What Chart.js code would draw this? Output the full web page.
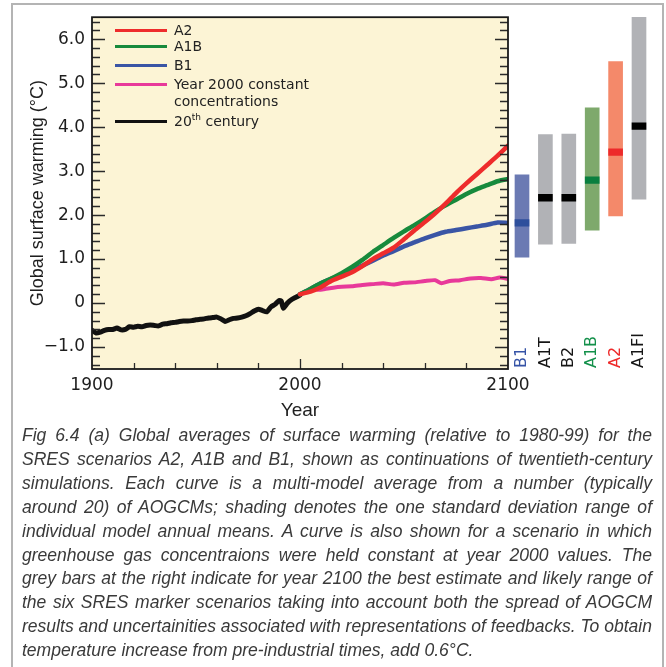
<!DOCTYPE html>
<html>
<head>
<meta charset="utf-8">
<script src="https://cdn.jsdelivr.net/npm/chart.js@4.4.1/dist/chart.umd.min.js"></script>
<style>
body { margin: 0; background: #fff; }
#fig { position: relative; width: 666px; height: 667px; overflow: hidden; background: #fff; }
#frame { position: absolute; left: 11px; top: 3px; width: 649px; height: 720px; border: 2px solid #b4b4b4; }
#lineChart { position: absolute; left: 0; top: 0; }
#barChart { position: absolute; left: 508px; top: 0; }
.lg { position: absolute; left: 174px; font-family: "DejaVu Sans"; font-size: 14px; line-height: 17px; color: #222; white-space: nowrap; }
.lg sup { font-size: 9px; line-height: 0; }
.lgl { position: absolute; left: 115px; width: 52px; height: 3px; }
#caption { position: absolute; left: 22px; top: 424px; font-family: "Liberation Sans"; font-style: italic; font-size: 18px; line-height: 23.9px; color: #3a3a3a; transform-origin: 0 0; }
#caption .ln { white-space: nowrap; text-align: justify; text-align-last: justify; }
#caption .ln.last { text-align-last: left; }
</style>
</head>
<body>
<div id="fig">
  <div id="frame"></div>
  <canvas id="lineChart" width="540" height="425"></canvas>
  <canvas id="barChart" width="158" height="425"></canvas>

  <div class="lgl" style="top:28.5px;background:#ee2c2c"></div>
  <div class="lg" style="top:21.5px">A2</div>
  <div class="lgl" style="top:44.5px;background:#178a3c"></div>
  <div class="lg" style="top:37.5px">A1B</div>
  <div class="lgl" style="top:63.5px;background:#3a55a5"></div>
  <div class="lg" style="top:56.5px">B1</div>
  <div class="lgl" style="top:82.5px;background:#e8399a"></div>
  <div class="lg" style="top:75.5px">Year 2000 constant<br>concentrations</div>
  <div class="lgl" style="top:119.5px;height:3.5px;background:#111"></div>
  <div class="lg" style="top:112.5px">20<sup>th</sup> century</div>

  <div id="caption"></div>
</div>

<script>
// 20th century (annual mean)
const histYears = [1900, 1902, 1904, 1906, 1908, 1910, 1912, 1914, 1916, 1918, 1920, 1922, 1924, 1926, 1928,
    1930, 1932, 1934, 1936, 1938, 1940, 1942, 1944, 1946, 1948, 1950, 1952, 1954, 1956, 1958, 1960,
    1962, 1964, 1966, 1968, 1970, 1972, 1974, 1976, 1978, 1980, 1982, 1984, 1986, 1988, 1990, 1991,
    1992, 1994, 1996, 1998, 2000];
const histTemps = [-0.62, -0.68, -0.66, -0.62, -0.60, -0.60, -0.57, -0.61, -0.60, -0.54, -0.55, -0.53, -0.54, -0.51, -0.50,
    -0.51, -0.52, -0.48, -0.47, -0.45, -0.44, -0.42, -0.41, -0.41, -0.40, -0.38, -0.37, -0.36, -0.34, -0.33, -0.32,
    -0.36, -0.42, -0.38, -0.35, -0.34, -0.32, -0.29, -0.24, -0.18, -0.14, -0.17, -0.20, -0.09, -0.03, 0.06, 0.04,
    -0.12, 0.00, 0.08, 0.13, 0.18];

// scenario projections 2000-2100
const projYears = [2000, 2005, 2010, 2015, 2020, 2025, 2030, 2035, 2040, 2045, 2050,
    2055, 2060, 2065, 2070, 2075, 2080, 2085, 2090, 2095, 2100];
const a2Temps  = [0.20, 0.26, 0.36, 0.50, 0.60, 0.70, 0.84, 1.00, 1.13, 1.26, 1.45,
    1.65, 1.84, 2.04, 2.26, 2.50, 2.72, 2.93, 3.14, 3.35, 3.58];
const a1bTemps = [0.20, 0.32, 0.45, 0.56, 0.68, 0.82, 0.98, 1.16, 1.32, 1.48, 1.63,
    1.77, 1.92, 2.08, 2.22, 2.35, 2.48, 2.59, 2.68, 2.77, 2.82];
const b1Temps  = [0.20, 0.32, 0.45, 0.55, 0.65, 0.75, 0.85, 0.96, 1.08, 1.18, 1.29,
    1.38, 1.47, 1.55, 1.62, 1.66, 1.70, 1.74, 1.78, 1.83, 1.82];

const commitYears = [2000, 2003, 2006, 2009, 2012, 2016, 2020, 2025, 2030, 2035, 2040, 2045,
    2050, 2055, 2060, 2065, 2068, 2072, 2077, 2082, 2087, 2092, 2096, 2100];
const commitTemps = [0.20, 0.26, 0.33, 0.30, 0.32, 0.35, 0.37, 0.38, 0.41, 0.43, 0.45, 0.42,
    0.46, 0.47, 0.50, 0.52, 0.45, 0.50, 0.52, 0.56, 0.57, 0.54, 0.58, 0.55];

// year-2100 likely ranges and best estimates
const scenLabels = ['B1', 'A1T', 'B2', 'A1B', 'A2', 'A1FI'];
const scenLow  = [1.03, 1.32, 1.34, 1.64, 1.96, 2.34];
const scenHigh = [2.89, 3.80, 3.81, 4.40, 5.45, 6.45];
const scenBest = [1.80, 2.37, 2.37, 2.77, 3.40, 3.99];

const yTickValues = [-1, 0, 1, 2, 3, 4, 5, 6];
const xTickLabels = [1900, 2000, 2100];

const captionLines = [
    'Fig 6.4 (a) Global averages of surface warming (relative to 1980-99) for the',
    'SRES scenarios A2, A1B and B1, shown as continuations of twentieth-century',
    'simulations. Each curve is a multi-model average from a number (typically',
    'around 20) of AOGCMs; shading denotes the one standard deviation range of',
    'individual model annual means. A curve is also shown for a scenario in which',
    'greenhouse gas concentraions were held constant at year 2000 values. The',
    'grey bars at the right indicate for year 2100 the best estimate and likely range of',
    'the six SRES marker scenarios taking into account both the spread of AOGCM',
    'results and uncertainities associated with representations of feedbacks. To obtain',
    'temperature increase from pre-industrial times, add 0.6\u00B0C.'
];

function pts(xs, ys) {
    return xs.map((x, i) => ({x: x, y: ys[i]}));
}

// yellow plot background, frame and inward ticks
const frameTicks = {
    id: 'frameTicks',
    beforeDraw(chart) {
        const a = chart.chartArea, ctx = chart.ctx;
        ctx.save();
        ctx.fillStyle = '#fcf4d5';
        ctx.fillRect(a.left, a.top, a.right - a.left, a.bottom - a.top);
        ctx.restore();
    },
    afterDraw(chart) {
        const a = chart.chartArea, ctx = chart.ctx;
        const x = chart.scales.x, y = chart.scales.y;
        ctx.save();
        ctx.strokeStyle = '#2a2a2a';
        ctx.lineWidth = 1.3;
        ctx.beginPath();
        for (let v = -14; v <= 64; v += 2) {
            const py = Math.round(y.getPixelForValue(v / 10)) + 0.5;
            const len = v % 10 === 0 ? 13 : 8;
            ctx.moveTo(a.left, py); ctx.lineTo(a.left + len, py);
            ctx.moveTo(a.right, py); ctx.lineTo(a.right - len, py);
        }
        for (let yr = 1920; yr < 2100; yr += 20) {
            const px = Math.round(x.getPixelForValue(yr)) + 0.5;
            const len = yr === 2000 ? 10 : 6;
            ctx.moveTo(px, a.bottom); ctx.lineTo(px, a.bottom - len);
        }
        ctx.stroke();
        ctx.lineWidth = 1.8;
        ctx.strokeStyle = '#1a1a1a';
        ctx.strokeRect(a.left, a.top, a.right - a.left, a.bottom - a.top);
        ctx.restore();
    }
};

new Chart(document.getElementById('lineChart'), {
    type: 'line',
    data: {
        datasets: [
            {label: 'A2', data: pts(projYears, a2Temps), borderColor: '#ee2c2c', borderWidth: 4.5},
            {label: 'A1B', data: pts(projYears, a1bTemps), borderColor: '#178a3c', borderWidth: 4.5},
            {label: 'B1', data: pts(projYears, b1Temps), borderColor: '#3a55a5', borderWidth: 4.5},
            {label: 'Year 2000 constant concentrations', data: pts(commitYears, commitTemps), borderColor: '#e8399a', borderWidth: 4},
            {label: '20th century', data: pts(histYears, histTemps), borderColor: '#111111', borderWidth: 5}
        ]
    },
    options: {
        responsive: false,
        animation: false,
        layout: {padding: {left: 0, right: 32, top: 15, bottom: 0}},
        elements: {point: {radius: 0}, line: {tension: 0.2, borderCapStyle: 'round', borderJoinStyle: 'round'}},
        plugins: {legend: {display: false}, tooltip: {enabled: false}},
        scales: {
            x: {
                type: 'linear', min: 1900, max: 2100,
                afterFit: (s) => { s.height = 56; },
                afterBuildTicks: (s) => { s.ticks = xTickLabels.map(v => ({value: v})); },
                grid: {display: false, drawTicks: false},
                border: {display: false},
                ticks: {padding: 6, color: '#1e1e1e', font: {family: 'DejaVu Sans', size: 17},
                    callback: (v) => String(v)},
                title: {display: true, text: 'Year', color: '#1e1e1e',
                    font: {family: 'Liberation Sans', size: 19}, padding: {top: 0, bottom: 3}}
            },
            y: {
                min: -1.5, max: 6.5,
                afterFit: (s) => { s.width = 92; },
                afterBuildTicks: (s) => { s.ticks = yTickValues.map(v => ({value: v})); },
                grid: {display: false, drawTicks: false},
                border: {display: false},
                ticks: {padding: 7, color: '#1e1e1e', font: {family: 'DejaVu Sans', size: 17},
                    callback: (v) => v === 0 ? '0' : (v < 0 ? '\u2212' + Math.abs(v).toFixed(1) : v.toFixed(1))},
                title: {display: true, text: 'Global surface warming (\u00B0C)', color: '#1e1e1e',
                    font: {family: 'Liberation Sans', size: 18}, padding: {top: 27, bottom: 0}}
            }
        }
    },
    plugins: [frameTicks]
});

// rotated scenario names under the bars
const scenNames = {
    id: 'scenNames',
    afterDraw(chart) {
        const ctx = chart.ctx, xs = chart.scales.x, a = chart.chartArea;
        const colors = ['#3553a6', '#151515', '#151515', '#13904a', '#ee2a2a', '#151515'];
        ctx.save();
        ctx.font = '16px "DejaVu Sans"';
        ctx.textAlign = 'left';
        ctx.textBaseline = 'middle';
        scenLabels.forEach((lab, i) => {
            ctx.save();
            ctx.translate(xs.getPixelForValue(i), a.bottom - 1);
            ctx.rotate(-Math.PI / 2);
            ctx.fillStyle = colors[i];
            ctx.fillText(lab, 0, 0);
            ctx.restore();
        });
        ctx.restore();
    }
};

new Chart(document.getElementById('barChart'), {
    type: 'bar',
    data: {
        labels: scenLabels,
        datasets: [
            {
                label: 'best estimate',
                data: scenBest.map(v => [v - 0.075, v + 0.075]),
                backgroundColor: ['#2e4f9c', '#000000', '#000000', '#0a7f3f', '#ed2a2a', '#000000'],
                order: 1
            },
            {
                label: 'likely range',
                data: scenLow.map((v, i) => [v, scenHigh[i]]),
                backgroundColor: ['#6b7ab3', '#b1b2b6', '#b1b2b6', '#7ea96c', '#f4896a', '#b1b2b6'],
                order: 2
            }
        ]
    },
    options: {
        responsive: false,
        animation: false,
        grouped: false,
        barThickness: 14,
        borderWidth: 0,
        layout: {padding: {left: 2.3, right: 15.3, top: 15, bottom: 56}},
        plugins: {legend: {display: false}, tooltip: {enabled: false}},
        scales: {
            x: {display: false},
            y: {display: false, min: -1.5, max: 6.5}
        }
    },
    plugins: [scenNames]
});

// caption, each line justified to the same width
const cap = document.getElementById('caption');
let maxW = 0;
captionLines.forEach((t, i) => {
    const d = document.createElement('div');
    d.className = 'ln' + (i === captionLines.length - 1 ? ' last' : '');
    const s = document.createElement('span');
    s.textContent = t;
    d.appendChild(s);
    cap.appendChild(d);
    maxW = Math.max(maxW, s.getBoundingClientRect().width);
});
cap.style.width = maxW + 'px';
cap.style.transform = 'scaleX(' + (630 / maxW) + ')';
</script>
</body>
</html>
